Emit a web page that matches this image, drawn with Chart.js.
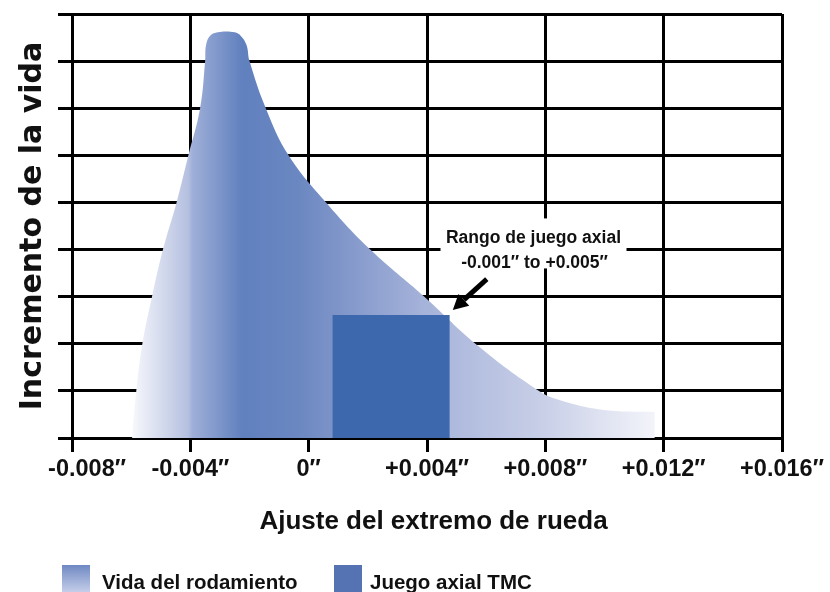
<!DOCTYPE html>
<html>
<head>
<meta charset="utf-8">
<script src="https://cdn.jsdelivr.net/npm/chart.js@4"></script>
<style>
  html, body { margin: 0; padding: 0; background: #fff; overflow: hidden; }
</style>
</head>
<body>
<canvas id="lifeChart" width="830" height="592"></canvas>
<script>
// x values are thousandths of an inch, y is the relative life (one unit per grid row)
const lifeX = [-5.97, -5.83, -5.63, -5.3, -4.93, -4.47, -4.07, -3.67, -3.5, -3.47, -3.33, -3.07, -2.8, -2.5, -2.3, -2.1, -2.0, -1.45, -0.67, 0.6, 2.1, 3.93, 5.7, 7.83, 8.5, 9.9, 11.7];
const lifeY = [0, 0.98, 1.97, 2.99, 3.99, 4.99, 5.99, 7.0, 8.0, 8.34, 8.54, 8.61, 8.63, 8.61, 8.54, 8.34, 8.0, 7.0, 5.99, 4.99, 3.99, 2.99, 1.97, 0.98, 0.8, 0.6, 0.55];
const playX = [0.8, 4.77];
const playY = [2.61, 2.61];
const xTicks = [-8, -4, 0, 4, 8, 12, 16];
const xTickLabels = ['-0.008″', '-0.004″', '0″', '+0.004″', '+0.008″', '+0.012″', '+0.016″'];
const seriesNames = ['Vida del rodamiento', 'Juego axial TMC'];
const noteLines = ['Rango de juego axial', '-0.001″ to +0.005″'];

const sans = '"Liberation Sans", Arial, sans-serif';

// colour fade along the curve, positions in x units
const fade = [
  [-5.97, '#f7f8fc'], [-4.07, '#b5c0e0'], [-3.93, '#9fafd8'], [-2.23, '#6080be'],
  [-0.4, '#6a87c1'], [0.8, '#7c93c8'], [3.93, '#a6b3da'], [7.93, '#c8cfe7'], [11.7, '#f3f4fa']
];

function lifeFill(c) {
  const chart = c.chart;
  if (!chart.chartArea) return 'rgba(0,0,0,0)';
  const sx = chart.scales.x;
  const x0 = sx.getPixelForValue(fade[0][0]);
  const x1 = sx.getPixelForValue(fade[fade.length - 1][0]);
  const g = chart.ctx.createLinearGradient(x0, 0, x1, 0);
  fade.forEach(function (s) {
    g.addColorStop((sx.getPixelForValue(s[0]) - x0) / (x1 - x0), s[1]);
  });
  return g;
}

const overlay = {
  id: 'overlay',
  afterDraw(chart) {
    const c = chart.ctx, sx = chart.scales.x, sy = chart.scales.y;
    c.save();

    // note with white box
    const nx = sx.getPixelForValue(7.6), ny = sy.getPixelForValue(4.13);
    c.fillStyle = '#fff';
    c.fillRect(nx - 93, ny - 25, 186, 50);
    c.fillStyle = '#111';
    c.font = 'bold 17.5px ' + sans;
    c.textAlign = 'center';
    c.textBaseline = 'middle';
    c.fillText(noteLines[0], nx, ny - 5);
    c.fillText(noteLines[1], nx + 1, ny + 20);

    // arrow to the corner of the play box
    const tx = sx.getPixelForValue(playX[1]) + 3, ty = sy.getPixelForValue(playY[1]) - 5;
    const fx = tx + 34, fy = ty - 31;
    const ang = Math.atan2(ty - fy, tx - fx);
    const hl = 15, hw = 8;
    const bx = tx - hl * Math.cos(ang), by = ty - hl * Math.sin(ang);
    c.strokeStyle = '#000';
    c.lineWidth = 5;
    c.beginPath();
    c.moveTo(fx, fy);
    c.lineTo(bx, by);
    c.stroke();
    c.fillStyle = '#000';
    c.beginPath();
    c.moveTo(tx, ty);
    c.lineTo(bx + hw * Math.sin(ang), by - hw * Math.cos(ang));
    c.lineTo(bx - hw * Math.sin(ang), by + hw * Math.cos(ang));
    c.closePath();
    c.fill();

    // legend
    const lg = c.createLinearGradient(0, 565, 0, 593);
    lg.addColorStop(0, '#6f89c3');
    lg.addColorStop(1, '#c8d0ea');
    c.fillStyle = lg;
    c.fillRect(62, 565, 28, 28);
    c.fillStyle = '#5573b3';
    c.fillRect(334, 565, 28, 28);
    c.fillStyle = '#111';
    c.font = 'bold 20.5px ' + sans;
    c.textAlign = 'left';
    c.textBaseline = 'alphabetic';
    c.fillText(seriesNames[0], 102, 589);
    c.fillText(seriesNames[1], 370, 589);
    c.restore();
  }
};

new Chart(document.getElementById('lifeChart').getContext('2d'), {
  type: 'line',
  data: {
    datasets: [{
      label: seriesNames[1],
      data: playX.map(function (x, i) { return { x: x, y: playY[i] }; }),
      fill: 'origin',
      backgroundColor: '#3d68ae',
      borderWidth: 0,
      pointRadius: 0,
      tension: 0,
      order: 0
    }, {
      label: seriesNames[0],
      data: lifeX.map(function (x, i) { return { x: x, y: lifeY[i] }; }),
      fill: 'origin',
      backgroundColor: lifeFill,
      borderWidth: 0,
      pointRadius: 0,
      tension: 0.4,
      order: 1
    }]
  },
  options: {
    responsive: false,
    animation: false,
    layout: { padding: { top: 14, right: 48, left: 0, bottom: 0 } },
    plugins: { legend: { display: false }, tooltip: { enabled: false } },
    scales: {
      x: {
        type: 'linear',
        min: -8,
        max: 16,
        z: 1,
        afterFit: function (s) { s.height = 154; },
        afterBuildTicks: function (s) { s.ticks = xTicks.map(function (v) { return { value: v }; }); },
        grid: { color: '#000', lineWidth: 3, tickLength: 14, tickColor: '#000' },
        border: { color: '#000', width: 3 },
        ticks: {
          autoSkip: false,
          maxRotation: 0,
          padding: 3,
          color: '#111',
          font: { family: sans, size: 23.5, weight: 'bold' },
          callback: function (v) {
            const i = xTicks.indexOf(v);
            // first label sits a little right of its tick in the original
            return i === 0 ? '\u2003 ' + xTickLabels[i] : xTickLabels[i];
          }
        },
        title: {
          display: true,
          text: '\u2002Ajuste del extremo de rueda',
          color: '#111',
          font: { family: sans, size: 26, weight: 'bold' },
          padding: { top: 0, bottom: 55 }
        }
      },
      y: {
        min: 0,
        max: 9,
        z: 1,
        afterFit: function (s) { s.width = 72; },
        grid: { color: '#000', lineWidth: 3, tickLength: 14, tickColor: '#000' },
        border: { color: '#000', width: 3 },
        ticks: { stepSize: 1, display: false },
        title: {
          display: true,
          text: 'Incremento de la vida',
          color: '#111',
          font: { family: '"DejaVu Sans", sans-serif', size: 30, weight: 'bold' },
          padding: { top: 15, bottom: 0 }
        }
      }
    }
  },
  plugins: [overlay]
});
</script>
</body>
</html>
